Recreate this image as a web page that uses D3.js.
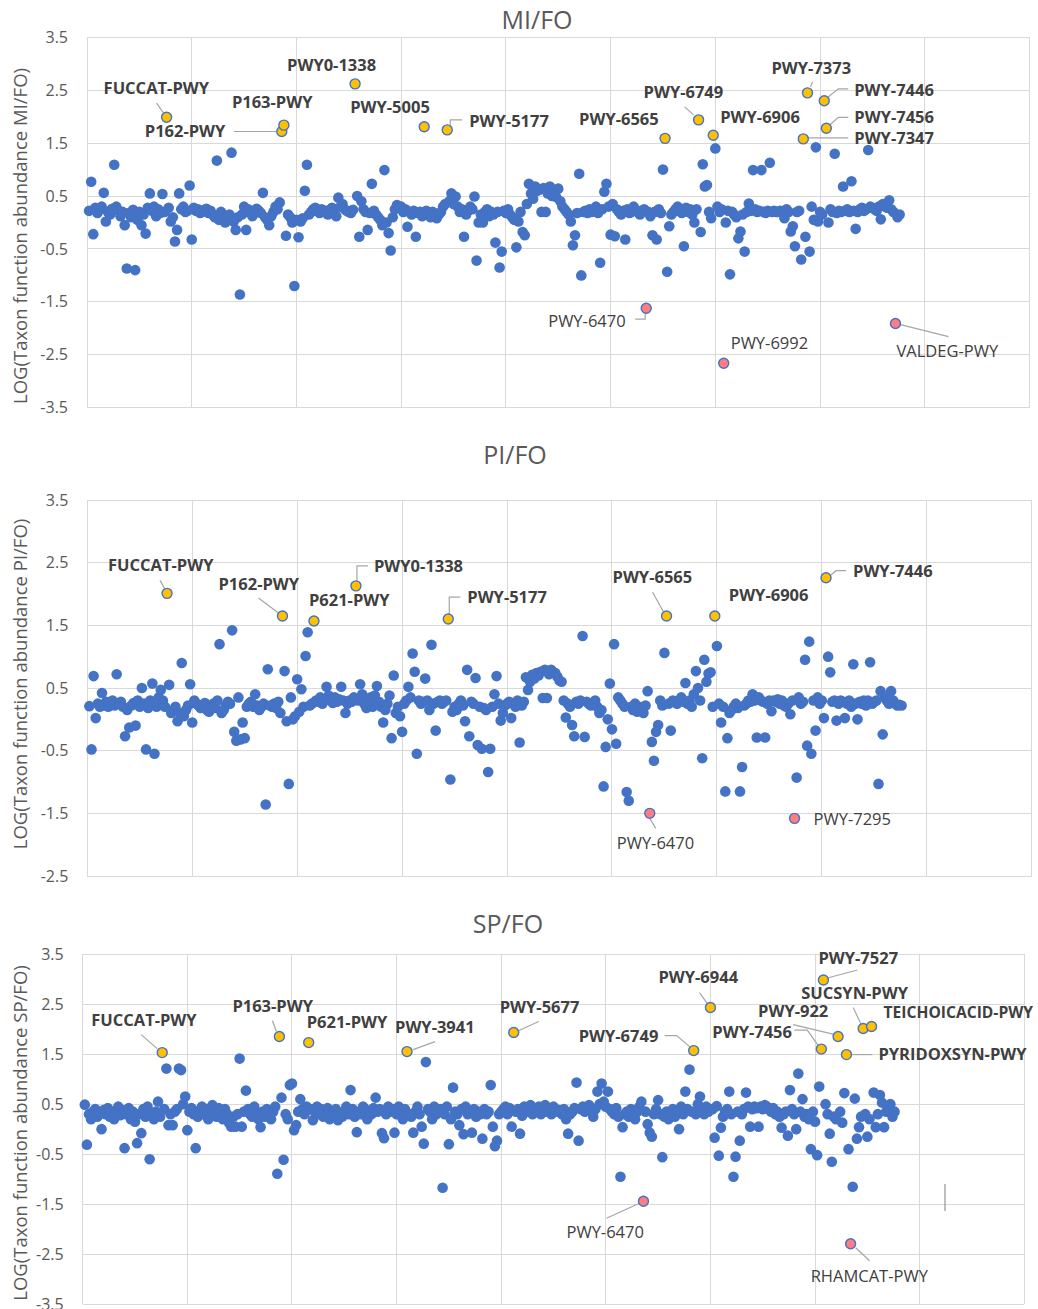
<!DOCTYPE html>
<html>
<head>
<meta charset="utf-8">
<script src="https://cdn.jsdelivr.net/npm/d3@7"></script>
<style>
  body { margin: 0; background: #fff; }
  svg { display: block; font-family: "Open Sans", "Liberation Sans", sans-serif; }
  .grid line { stroke: #d9d9d9; stroke-width: 1; shape-rendering: crispEdges; }
  .tick-label { fill: #595959; font-size: 16px; }
  .panel-title { fill: #595959; font-size: 25px; }
  .y-title { fill: #595959; font-size: 18.5px; }
  .dot { fill: #4472c4; }
  .hi { stroke: #4472c4; stroke-width: 1.4; }
  .lbl { fill: #404040; font-size: 16.5px; }
  .lbl.bold { font-weight: bold; }
  .leader { fill: none; stroke: #a6a6a6; stroke-width: 1.2; }
</style>
</head>
<body>
<svg id="chart" width="1038" height="1309"></svg>
<script>
// x axis: pathway index, gridlines every 50
var xDomain = [0, 450];
var xGridStep = 50;

// y ticks (log ratio)
var yTicksFull = [3.5, 2.5, 1.5, 0.5, -0.5, -1.5, -2.5, -3.5];
var yTicksPI = [3.5, 2.5, 1.5, 0.5, -0.5, -1.5, -2.5];

// MI/FO values, x = 1..388
var miFoValues = [
  0.22, 0.77, -0.22, 0.28, 0.18, 0.25, 0.3, 0.56, 0.02, 0.2,
  0.15, 0.26, 1.09, 0.3, 0.22, 0.12, 0.2, -0.05, -0.87, 0.18,
  0.1, 0.24, -0.9, 0.05, 0.2, -0.05, 0.15, -0.21, 0.28, 0.55,
  0.22, 0.3, 0.12, 0.25, 0.18, 0.54, 0.2, 1.99, 0.28, 0.02,
  0.1, -0.36, -0.14, 0.55, 0.25, 0.3, 0.2, 0.22, 0.7, -0.32,
  0.28, 0.22, 0.25, 0.18, 0.2, 0.24, 0.26, 0.18, 0.22, 0.15,
  0.1, 1.17, 0.05, 0.2, 0.12, 0.0, 0.08, 0.15, 1.32, 0.02,
  -0.14, 0.1, -1.36, 0.15, 0.3, -0.14, 0.25, 0.18, 0.12, 0.2,
  0.26, 0.22, 0.18, 0.56, 0.1, 0.05, -0.05, 0.12, 0.2, 0.3,
  0.25, 0.38, 1.72, 1.84, -0.25, 0.15, 0.1, 0.0, -1.2, 0.05,
  -0.28, 0.02, 0.08, 0.6, 1.09, 0.15, 0.2, 0.25, 0.28, 0.22,
  0.18, 0.25, 0.2, 0.22, 0.15, 0.24, 0.28, 0.2, 0.12, 0.47,
  0.3, 0.35, 0.25, 0.22, 0.2, 0.18, 0.24, 2.62, 0.5, -0.27,
  0.4, 0.25, 0.2, -0.14, 0.18, 0.73, 0.22, 0.15, 0.1, 0.05,
  -0.05, 0.99, 0.0, -0.2, -0.53, 0.1, 0.25, 0.33, 0.28, 0.3,
  0.2, 0.25, -0.08, 0.2, 0.15, 0.22, -0.27, 0.18, 0.2, 0.12,
  1.81, 0.22, 0.15, 0.1, 0.2, 0.12, 0.08, 0.15, 0.2, 0.3,
  0.35, 1.75, 0.4, 0.55, 0.35, 0.49, 0.3, 0.2, 0.25, -0.27,
  0.15, 0.22, 0.3, 0.25, 0.49, -0.72, 0.0, 0.15, 0.0, 0.2,
  0.25, 0.12, 0.2, 0.15, -0.38, 0.2, -0.85, -0.55, 0.22, 0.18,
  0.25, 0.15, 0.1, 0.05, -0.47, 0.02, 0.2, -0.18, -0.24, 0.35,
  0.73, 0.55, 0.45, 0.68, 0.6, 0.62, 0.2, 0.65, 0.2, 0.55,
  0.68, 0.5, 0.62, 0.48, 0.64, 0.4, 0.3, 0.25, 0.2, 0.15,
  0.02, -0.43, -0.24, 0.18, 0.92, -1.0, 0.2, 0.22, 0.18, 0.25,
  0.2, 0.22, 0.3, 0.18, -0.76, 0.25, 0.58, 0.73, 0.3, -0.23,
  0.35, -0.26, 0.25, 0.2, 0.15, 0.22, -0.32, 0.25, 0.18, 0.2,
  0.3, 0.24, 0.2, 0.15, 0.22, 0.25, -1.62, 0.2, 0.12, -0.24,
  0.2, -0.32, 0.25, 0.18, 1.0, 1.59, -0.93, -0.07, 0.15, 0.2,
  0.25, 0.3, 0.22, 0.18, -0.45, 0.28, 0.2, 0.25, 0.15, 0.0,
  0.25, 1.94, -0.18, 1.1, 0.68, 0.71, 0.2, 0.08, 1.65, 1.4,
  0.3, 0.2, 0.25, -2.66, 0.0, 0.22, -0.98, 0.2, 0.15, 0.1,
  -0.3, -0.17, 0.15, -0.55, 0.2, 0.36, 0.22, 0.99, 0.25, 0.2,
  0.22, 0.99, 0.2, 0.18, 0.22, 1.13, 0.2, 0.22, 0.2, 0.2,
  0.22, 0.2, 0.08, 0.25, 0.2, -0.17, -0.07, -0.45, 0.2, 0.22,
  -0.7, 1.58, -0.27, 2.45, -0.55, 0.3, 0.05, 1.42, 0.02, 0.2,
  0.15, 2.3, 1.78, 0.0, 0.25, 0.2, 1.3, 0.18, 0.22, 0.2,
  0.68, 0.22, 0.25, 0.2, 0.78, 0.22, -0.12, 0.2, 0.25, 0.28,
  0.22, 0.25, 1.37, 0.3, 0.28, 0.25, 0.22, 0.3, 0.06, 0.35,
  0.3, 0.28, 0.42, 0.25, 0.2, -1.91, 0.1, 0.15
];
var miFoHiNames = ['FUCCAT-PWY', 'P162-PWY', 'P163-PWY', 'PWY0-1338', 'PWY-5005', 'PWY-5177', 'PWY-6470',
  'PWY-6565', 'PWY-6749', 'PWY-6906', 'PWY-6992', 'PWY-7347', 'PWY-7373', 'PWY-7446', 'PWY-7456', 'VALDEG-PWY'];
var miFoHiX = [38, 93, 94, 128, 161, 172, 267, 276, 292, 299, 304, 342, 344, 352, 353, 386];

// PI/FO values, x = 1..388
var piFoValues = [
  0.21, -0.48, 0.69, 0.02, 0.25, 0.2, 0.42, 0.22, 0.28, 0.2,
  0.25, 0.3, 0.22, 0.72, 0.25, 0.28, 0.2, -0.27, 0.15, -0.13,
  0.22, 0.26, -0.1, 0.3, 0.2, 0.5, 0.25, -0.48, 0.18, 0.3,
  0.57, -0.55, 0.2, 0.35, 0.47, 0.3, 0.2, 2.01, 0.55, 0.1,
  0.15, 0.2, -0.03, 0.1, 0.9, 0.05, 0.15, 0.22, 0.56, -0.05,
  0.3, 0.25, 0.22, 0.18, 0.2, 0.26, 0.15, 0.12, 0.2, 0.25,
  0.18, 0.3, 1.2, 0.1, 0.15, 0.22, 0.28, 0.25, 1.42, -0.2,
  -0.34, 0.35, -0.32, -0.05, -0.3, 0.2, 0.25, 0.28, 0.2, 0.4,
  0.22, 0.15, 0.2, 0.25, -1.36, 0.8, 0.22, 0.2, 0.25, 0.18,
  0.28, 0.1, 1.65, 0.77, -0.03, -1.03, 0.35, 0.0, 0.05, 0.64,
  0.12, 0.48, 0.2, 1.01, 1.39, 0.22, 0.25, 1.57, 0.3, 0.28,
  0.35, 0.25, 0.3, 0.52, 0.38, 0.3, 0.26, 0.35, 0.28, 0.32,
  0.52, 0.3, 0.1, 0.25, 0.3, 0.28, 0.35, 2.13, 0.3, 0.56,
  0.4, 0.25, 0.18, 0.3, 0.35, 0.2, 0.38, 0.53, 0.28, 0.2,
  -0.05, 0.15, 0.25, 0.38, -0.3, 0.7, 0.1, 0.2, 0.05, -0.2,
  0.25, 0.3, 0.52, 0.35, 1.05, 0.76, -0.55, 0.3, 0.25, 0.28,
  0.65, 0.3, 0.15, 1.19, 0.25, -0.18, 0.28, 0.3, 0.25, 0.28,
  0.3, 1.6, -0.96, 0.12, 0.2, 0.15, 0.25, 0.3, 0.22, -0.03,
  0.79, -0.27, 0.28, 0.25, 0.66, -0.41, 0.2, -0.47, 0.18, 0.15,
  -0.84, -0.47, 0.2, 0.4, 0.69, 0.25, -0.02, 0.1, 0.22, 0.25,
  0.28, 0.02, 0.25, 0.2, 0.3, -0.37, 0.22, 0.28, 0.67, 0.47,
  0.6, 0.71, 0.65, 0.74, 0.7, 0.76, 0.34, 0.79, 0.34, 0.72,
  0.79, 0.75, 0.74, 0.68, 0.62, 0.6, 0.3, 0.03, 0.25, 0.2,
  -0.09, -0.27, 0.28, 0.25, 0.3, 1.33, -0.28, 0.28, 0.25, 0.22,
  0.25, 0.3, 0.2, 0.1, 0.15, -1.07, -0.44, 0.0, 0.57, -0.16,
  1.2, -0.39, 0.35, 0.3, 0.25, 0.2, -1.16, -1.3, 0.2, 0.15,
  0.25, 0.12, 0.2, 0.18, 0.1, 0.22, 0.45, -1.5, -0.36, -0.66,
  -0.2, -0.09, 0.3, 0.22, 1.06, 1.65, 0.25, -0.18, 0.3, 0.28,
  0.25, 0.3, 0.35, 0.28, 0.58, 0.25, 0.3, 0.2, 0.4, 0.77,
  0.5, 0.3, -0.62, 0.95, 0.6, 0.73, 0.75, 0.2, 1.65, 1.17,
  0.25, -0.05, 0.2, -1.15, -0.3, 0.1, 0.15, 0.2, 0.25, 0.18,
  -1.15, -0.76, 0.22, 0.25, 0.3, 0.28, 0.4, 0.3, -0.29, 0.35,
  0.3, 0.28, -0.29, 0.25, 0.3, 0.13, 0.3, 0.28, 0.32, 0.25,
  0.3, 0.22, 0.2, 0.25, 0.08, 0.3, -1.58, -0.93, 0.35, 0.25,
  0.28, 0.95, -0.42, 1.24, -0.55, 0.3, -0.18, 0.35, 0.25, 0.3,
  0.02, 2.26, 1.0, 0.75, 0.28, 0.3, -0.02, 0.25, 0.3, 0.28,
  0.02, 0.25, 0.3, 0.2, 0.88, 0.25, 0.0, 0.28, 0.25, 0.3,
  0.22, 0.3, 0.91, 0.25, 0.28, 0.3, -1.03, 0.45, -0.24, 0.35,
  0.3, 0.25, 0.45, 0.3, 0.25, 0.22, 0.23, 0.22
];
var piFoHiNames = ['FUCCAT-PWY', 'P162-PWY', 'P621-PWY', 'PWY0-1338', 'PWY-5177', 'PWY-6470', 'PWY-6565',
  'PWY-6906', 'PWY-7295', 'PWY-7446'];
var piFoHiX = [38, 93, 108, 128, 172, 268, 276, 299, 337, 352];

// SP/FO values, x = 1..388
var spFoValues = [
  0.49, -0.31, 0.3, 0.2, 0.35, 0.4, 0.25, 0.3, 0.0, 0.38,
  0.3, 0.42, 0.25, 0.35, 0.2, 0.3, 0.45, 0.28, 0.38, -0.38,
  0.3, 0.42, 0.2, 0.35, 0.15, -0.28, 0.3, -0.08, 0.4, 0.25,
  0.45, -0.6, 0.3, 0.2, 0.35, 0.55, 0.25, 1.53, 0.4, 1.21,
  0.08, 0.3, 0.08, 0.35, 0.4, 1.21, 1.18, 0.5, 0.65, -0.02,
  0.35, 0.42, 0.3, -0.38, 0.25, 0.38, 0.45, 0.3, 0.4, 0.2,
  0.35, 0.48, 0.3, 0.25, 0.42, 0.35, 0.2, 0.4, 0.3, 0.12,
  0.05, 0.25, 0.05, 0.3, 1.41, 0.05, 0.35, 0.77, 0.4, 0.3,
  0.25, 0.45, 0.3, 0.2, 0.04, 0.35, 0.25, 0.4, 0.3, 0.2,
  0.35, 0.45, -0.89, 1.85, 0.63, -0.61, 0.3, 0.2, 0.88, 0.91,
  -0.02, 0.08, 0.35, 0.6, 0.4, 0.3, 0.45, 1.73, 0.4, 0.18,
  0.35, 0.45, 0.3, 0.4, 0.25, 0.35, 0.42, 0.2, 0.3, 0.35,
  0.4, 0.18, 0.3, 0.25, 0.35, 0.45, 0.3, 0.78, 0.4, 0.25,
  -0.06, 0.35, 0.3, 0.45, 0.4, 0.2, 0.35, 0.3, 0.42, 0.63,
  0.35, 0.4, -0.08, -0.18, 0.3, 0.45, 0.35, 0.4, -0.07, 0.3,
  0.45, 0.35, 0.2, 0.4, 1.55, 0.3, 0.25, -0.07, 0.35, 0.45,
  0.3, 0.05, -0.29, 1.34, 0.4, 0.35, 0.2, 0.45, 0.3, 0.35,
  0.4, -1.17, 0.3, 0.45, -0.3, 0.2, 0.83, 0.35, 0.3, 0.08,
  0.4, -0.1, 0.45, 0.3, 0.35, -0.07, 0.4, 0.25, 0.35, 0.3,
  -0.19, 0.4, 0.3, 0.35, 0.88, 0.05, -0.34, -0.23, 0.3, 0.35,
  0.4, 0.45, 0.3, 0.42, 0.05, 1.93, 0.35, 0.4, -0.09, 0.27,
  0.45, 0.4, 0.35, 0.48, 0.3, 0.42, 0.38, 0.45, 0.3, 0.4,
  0.48, 0.35, 0.42, 0.3, 0.45, 0.4, 0.35, 0.38, 0.3, 0.4,
  0.2, -0.09, 0.3, 0.35, 0.42, 0.93, -0.23, 0.4, 0.45, 0.35,
  0.42, 0.48, 0.38, 0.25, 0.4, 0.75, 0.5, 0.91, 0.55, 0.45,
  0.75, 0.4, 0.35, 0.3, 0.42, 0.25, -0.95, 0.04, 0.3, 0.35,
  0.25, 0.4, 0.3, 0.2, 0.35, 0.45, 0.55, -1.44, 0.35, 0.1,
  -0.07, -0.15, 0.3, 0.4, 0.58, 0.3, -0.56, 0.25, 0.35, 0.2,
  0.3, 0.4, 0.25, 0.35, 0.0, 0.45, 0.3, 0.75, 0.4, 1.19,
  0.35, 1.57, 0.3, 0.5, 0.65, 0.4, 0.3, 0.45, 0.35, 2.43,
  0.4, -0.17, 0.46, -0.53, 0.03, 0.25, 0.35, 0.4, 0.75, 0.3,
  -0.95, -0.55, 0.35, -0.23, 0.3, 0.4, 0.73, 0.45, 0.05, 0.4,
  0.45, 0.42, 0.05, 0.45, 0.4, 0.48, 0.45, 0.4, 0.35, 0.42,
  0.3, 0.35, 0.25, 0.03, 0.3, 0.35, -0.13, 0.78, 0.4, 0.3,
  0.0, 1.11, 0.35, 0.6, 0.25, 0.3, 0.2, -0.4, 0.35, 0.15,
  -0.52, 0.85, 1.6, 2.98, 0.5, 0.3, -0.09, -0.65, 0.25, 0.2,
  1.85, 0.35, 0.13, 0.72, 1.49, -0.4, -2.29, -1.15, 0.61, -0.19,
  0.04, 0.25, 2.01, 0.3, -0.15, 0.2, 2.05, 0.73, 0.04, 0.3,
  0.68, 0.53, 0.04, 0.35, 0.42, 0.5, 0.25, 0.35
];
var spFoHiNames = ['FUCCAT-PWY', 'P163-PWY', 'P621-PWY', 'PWY-3941', 'PWY-5677', 'PWY-6470', 'PWY-6749',
  'PWY-6944', 'PWY-7456', 'PWY-7527', 'PWY-922', 'PYRIDOXSYN-PWY', 'RHAMCAT-PWY', 'SUCSYN-PWY', 'TEICHOICACID-PWY'];
var spFoHiX = [38, 94, 108, 155, 206, 268, 292, 300, 353, 354, 361, 365, 367, 373, 377];

// label placement: offset of text start from the point (px) and leader polyline offsets
var labelPlacement = {
  'MI/FO': {
    'FUCCAT-PWY': [-63, -29, [[-10, -14], [-3, -4]]],
    'P162-PWY': [-137, 0, [[-48, 0], [-4, 0]]],
    'P163-PWY': [-52, -23],
    'PWY0-1338': [-68, -19],
    'PWY-5005': [-74, -20],
    'PWY-5177': [22, -9, [[3, -3], [3, -10], [15, -10]]],
    'PWY-6470': [-98, 13, [[-11, 11], [-1, 11], [-1, 5]]],
    'PWY-6565': [-86, -19],
    'PWY-6749': [-55, -28, [[-14, -13], [-5, -5]]],
    'PWY-6906': [7, -18],
    'PWY-6992': [7, -20],
    'PWY-7347': [51, -1, [[4, -1], [45, -1]]],
    'PWY-7373': [-36, -25, [[5, -11], [3, -6]]],
    'PWY-7446': [30, -11, [[3, -3], [14, -12], [24, -12]]],
    'PWY-7456': [28, -11, [[2, -2], [12, -11], [22, -11]]],
    'VALDEG-PWY': [1, 28, [[5, 1], [53, 13]]]
  },
  'PI/FO': {
    'FUCCAT-PWY': [-59, -28, [[-7, -13], [-2, -4]]],
    'P162-PWY': [-64, -32, [[-24, -18], [-4, -3]]],
    'P621-PWY': [-5, -21],
    'PWY0-1338': [18, -20, [[1, -3], [1, -20], [12, -20]]],
    'PWY-5177': [19, -22, [[1, -4], [1, -22], [12, -22]]],
    'PWY-6470': [-33, 30, [[0, 5], [6, 15]]],
    'PWY-6565': [-54, -39, [[-14, -24], [-3, -4]]],
    'PWY-6906': [14, -21],
    'PWY-7295': [19, 1],
    'PWY-7446': [27, -6, [[5, -3], [10, -7], [20, -7]]]
  },
  'SP/FO': {
    'FUCCAT-PWY': [-71, -32, [[-21, -18], [-5, -4]]],
    'P163-PWY': [-47, -30, [[-7, -16], [-3, -5]]],
    'P621-PWY': [-2, -20],
    'PWY-3941': [-12, -24, [[6, -2], [28, -10]]],
    'PWY-5677': [-14, -25, [[3, -1], [25, -11]]],
    'PWY-6470': [-77, 31, [[-37, 17], [-4, 2]]],
    'PWY-6749': [-115, -14, [[-29, -15], [-17, -15], [-4, -4]]],
    'PWY-6944': [-52, -30, [[-11, -15], [-3, -4]]],
    'PWY-7456': [-109, -17, [[-27, -19], [-14, -19], [-2, -2]]],
    'PWY-7527': [-5, -22, [[4, -2], [34, -10]]],
    'PWY-922': [-80, -25, [[-45, -12], [-3, -2]]],
    'PYRIDOXSYN-PWY': [32, 0, [[5, 0], [26, 0]]],
    'RHAMCAT-PWY': [-40, 32, [[5, 4], [19, 17]]],
    'SUCSYN-PWY': [-62, -35, [[-10, -21], [-1, -2]]],
    'TEICHOICACID-PWY': [12, -14]
  }
};

var panels = [
  {name: 'MI/FO', values: miFoValues, hiNames: miFoHiNames, hiX: miFoHiX, yTicks: yTicksFull,
   left: 87, right: 1029.5, top: 37.3, bottom: 407.7, titleX: 537, titleY: 20, yTitleY: 236},
  {name: 'PI/FO', values: piFoValues, hiNames: piFoHiNames, hiX: piFoHiX, yTicks: yTicksPI,
   left: 87.3, right: 1031.7, top: 500, bottom: 876, titleX: 515, titleY: 455, yTitleY: 684},
  {name: 'SP/FO', values: spFoValues, hiNames: spFoHiNames, hiX: spFoHiX, yTicks: yTicksFull,
   left: 82.7, right: 1024.3, top: 954, bottom: 1304.3, titleX: 508, titleY: 924, yTitleY: 1133}
];

var svg = d3.select('#chart');
svg.append('rect').attr('width', 1038).attr('height', 1309).attr('fill', '#fff');

// Excel style tick text: plain hyphen for negatives
var fmt = function(d) { return d3.format('.1f')(d).replace('\u2212', '-'); };

panels.forEach(function(p) {
  var x = d3.scaleLinear().domain(xDomain).range([p.left, p.right]);
  var y = d3.scaleLinear().domain([d3.min(p.yTicks), d3.max(p.yTicks)]).range([p.bottom, p.top]);
  var g = svg.append('g');

  // gridlines
  var grid = g.append('g').attr('class', 'grid');
  grid.selectAll('.hl')
      .data(p.yTicks)
      .enter()
      .append('line')
      .attr('x1', p.left)
      .attr('x2', p.right)
      .attr('y1', function(d) { return y(d); })
      .attr('y2', function(d) { return y(d); });
  grid.selectAll('.vl')
      .data(d3.range(xDomain[0], xDomain[1] + 1, xGridStep))
      .enter()
      .append('line')
      .attr('x1', function(d) { return x(d); })
      .attr('x2', function(d) { return x(d); })
      .attr('y1', p.top)
      .attr('y2', p.bottom);

  // y tick labels
  g.selectAll('.tick-label')
      .data(p.yTicks)
      .enter()
      .append('text')
      .attr('class', 'tick-label')
      .attr('x', p.left - 19)
      .attr('y', function(d) { return y(d); })
      .attr('dy', '0.35em')
      .attr('text-anchor', 'end')
      .text(function(d) { return fmt(d); });

  // titles
  g.append('text')
      .attr('class', 'panel-title')
      .attr('x', p.titleX)
      .attr('y', p.titleY)
      .attr('dy', '0.35em')
      .attr('text-anchor', 'middle')
      .text(p.name);

  g.append('text')
      .attr('class', 'y-title')
      .attr('transform', 'translate(21,' + p.yTitleY + ') rotate(-90)')
      .attr('dy', '0.35em')
      .attr('text-anchor', 'middle')
      .text('LOG(Taxon function abundance ' + p.name + ')');

  // points
  var pts = p.values.map(function(v, i) { return {x: i + 1, v: v}; });
  var hiSet = {};
  p.hiX.forEach(function(hx, k) { hiSet[hx] = p.hiNames[k]; });

  g.append('g')
      .selectAll('circle')
      .data(pts.filter(function(d) { return !hiSet[d.x]; }))
      .enter()
      .append('circle')
      .attr('class', 'dot')
      .attr('cx', function(d) { return x(d.x); })
      .attr('cy', function(d) { return y(d.v); })
      .attr('r', 5.3);

  var hiPts = pts.filter(function(d) { return hiSet[d.x]; }).map(function(d) {
    return {x: d.x, v: d.v, name: hiSet[d.x], place: labelPlacement[p.name][hiSet[d.x]]};
  });

  // leader lines
  var line = d3.line();
  g.append('g')
      .selectAll('path')
      .data(hiPts.filter(function(d) { return d.place[2]; }))
      .enter()
      .append('path')
      .attr('class', 'leader')
      .attr('d', function(d) {
        var px = x(d.x), py = y(d.v);
        return line(d.place[2].map(function(o) { return [px + o[0], py + o[1]]; }));
      });

  g.append('g')
      .selectAll('circle')
      .data(hiPts)
      .enter()
      .append('circle')
      .attr('class', 'hi')
      .attr('cx', function(d) { return x(d.x); })
      .attr('cy', function(d) { return y(d.v); })
      .attr('r', 5)
      .attr('fill', function(d) { return d.v < 0 ? '#ff7c80' : '#ffc000'; });

  g.append('g')
      .selectAll('text')
      .data(hiPts)
      .enter()
      .append('text')
      .attr('class', function(d) { return d.v < 0 ? 'lbl' : 'lbl bold'; })
      .attr('x', function(d) { return x(d.x) + d.place[0]; })
      .attr('y', function(d) { return y(d.v) + d.place[1]; })
      .attr('dy', '0.35em')
      .text(function(d) { return d.name; })
      .each(function() {
        // shrink a label that would run past the right edge
        var room = 1033 - (+this.getAttribute('x'));
        var len = this.getComputedTextLength();
        if (len > room) {
          d3.select(this).style('font-size', (16.5 * room / len).toFixed(2) + 'px');
        }
      });
});

// stray cursor mark in the lower panel
svg.append('line')
    .attr('x1', 945).attr('x2', 945)
    .attr('y1', 1184).attr('y2', 1211)
    .attr('stroke', '#7f7f7f')
    .attr('stroke-width', 1);
</script>
</body>
</html>
